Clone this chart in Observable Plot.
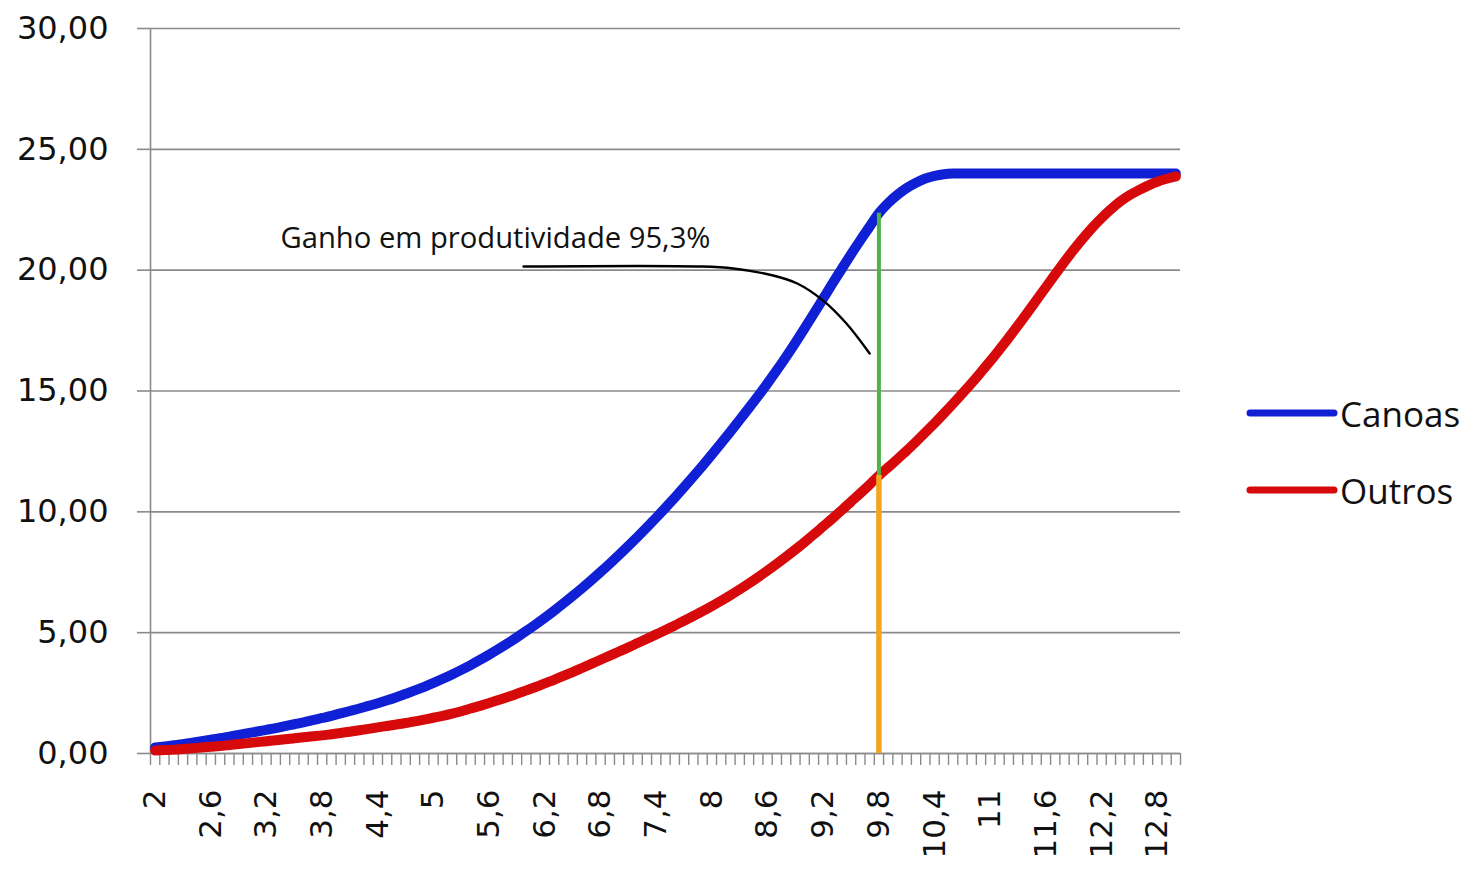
<!DOCTYPE html>
<html>
<head>
<meta charset="utf-8">
<script src="https://cdn.jsdelivr.net/npm/d3@7"></script>
<script src="https://cdn.jsdelivr.net/npm/@observablehq/plot@0.6"></script>
<style>
  html, body { margin: 0; padding: 0; background: #fff; }
  #wrap { position: relative; width: 1472px; height: 870px; }
  .legend { position: absolute; left: 1244px; font-family: "Open Sans", sans-serif; font-size: 35px; color: #111; display: flex; align-items: center; height: 40px; }
  .legend svg { display: block; }
</style>
</head>
<body>
<div id="wrap"></div>
<script>
// Categories (x axis): 2,0 to 13,0 in steps of 0,1
const categories = d3.range(20, 131).map(d => d / 10);

// Series values
const canoas = [
  0.25, 0.29, 0.34, 0.39, 0.45, 0.51, 0.57, 0.63, 0.70, 0.77,
  0.84, 0.91, 0.98, 1.05, 1.13, 1.21, 1.29, 1.38, 1.47, 1.56,
  1.66, 1.76, 1.86, 1.97, 2.08, 2.20, 2.33, 2.47, 2.61, 2.76,
  2.92, 3.09, 3.27, 3.46, 3.66, 3.87, 4.09, 4.32, 4.56, 4.81,
  5.07, 5.34, 5.62, 5.91, 6.21, 6.52, 6.84, 7.17, 7.51, 7.86,
  8.22, 8.59, 8.97, 9.36, 9.76, 10.17, 10.59, 11.02, 11.46, 11.91,
  12.37, 12.84, 13.32, 13.81, 14.30, 14.80, 15.32, 15.86, 16.42, 17.00,
  17.60, 18.21, 18.83, 19.45, 20.06, 20.66, 21.24, 21.80, 22.36, 22.78,
  23.12, 23.40, 23.62, 23.79, 23.90, 23.97, 24.00, 24.00, 24.00, 24.00,
  24.00, 24.00, 24.00, 24.00, 24.00, 24.00, 24.00, 24.00, 24.00, 24.00,
  24.00, 24.00, 24.00, 24.00, 24.00, 24.00, 24.00, 24.00, 24.00, 24.00,
  24.00
];
const outros = [
  0.12, 0.14, 0.16, 0.19, 0.22, 0.25, 0.28, 0.31, 0.35, 0.39,
  0.43, 0.47, 0.51, 0.55, 0.59, 0.63, 0.67, 0.71, 0.75, 0.80,
  0.85, 0.90, 0.96, 1.02, 1.08, 1.14, 1.20, 1.26, 1.33, 1.40,
  1.48, 1.56, 1.65, 1.75, 1.86, 1.97, 2.09, 2.21, 2.34, 2.47,
  2.61, 2.75, 2.90, 3.05, 3.21, 3.37, 3.54, 3.71, 3.88, 4.05,
  4.22, 4.39, 4.57, 4.75, 4.93, 5.11, 5.30, 5.49, 5.69, 5.89,
  6.10, 6.32, 6.55, 6.79, 7.04, 7.30, 7.57, 7.85, 8.14, 8.44,
  8.75, 9.07, 9.40, 9.73, 10.07, 10.42, 10.77, 11.13, 11.50, 11.84,
  12.18, 12.53, 12.90, 13.28, 13.67, 14.07, 14.48, 14.90, 15.33, 15.78,
  16.24, 16.72, 17.21, 17.72, 18.24, 18.77, 19.30, 19.83, 20.35, 20.85,
  21.32, 21.76, 22.16, 22.52, 22.84, 23.10, 23.31, 23.50, 23.66, 23.78,
  23.88
];

// Tick labels
const xLabelValues = [2, 2.6, 3.2, 3.8, 4.4, 5, 5.6, 6.2, 6.8, 7.4, 8, 8.6, 9.2, 9.8, 10.4, 11, 11.6, 12.2, 12.8];
const xLabels = ["2", "2,6", "3,2", "3,8", "4,4", "5", "5,6", "6,2", "6,8", "7,4", "8", "8,6", "9,2", "9,8", "10,4", "11", "11,6", "12,2", "12,8"];
const yTicks = [0, 5, 10, 15, 20, 25, 30];
const yLabels = ["0,00", "5,00", "10,00", "15,00", "20,00", "25,00", "30,00"];

// Series names and colours
const seriesNames = ["Canoas", "Outros"];
const seriesColors = ["#1020d4", "#d60a0a"];

// Annotation
const markerCategory = 9.8;
const annotationText = "Ganho em produtividade 95,3%";
const annotationTextPos = [{x: 3.351, y: 21.32}];
const annotationPath = [
  {x: 5.97, y: 20.15}, {x: 7.88, y: 20.15}, {x: 8.23, y: 20.07}, {x: 8.66, y: 19.78},
  {x: 8.92, y: 19.45}, {x: 9.20, y: 18.74}, {x: 9.45, y: 17.79}, {x: 9.70, y: 16.55}
];

// Build tables
const rows = [];
categories.forEach((c, i) => {
  rows.push({x: c, y: canoas[i], s: seriesNames[0]});
  rows.push({x: c, y: outros[i], s: seriesNames[1]});
});
const mi = categories.findIndex(c => Math.abs(c - markerCategory) < 1e-9);
const orangeRule = [{x: markerCategory, y1: 0, y2: outros[mi]}];
const greenRule = [{x: markerCategory, y1: outros[mi], y2: canoas[mi]}];
const step = 0.1;
const boundaries = categories.map(c => c - step / 2).concat([categories[categories.length - 1] + step / 2]);
const labelMap = new Map(xLabelValues.map((v, i) => [v, xLabels[i]]));
const yLabelMap = new Map(yTicks.map((v, i) => [v, yLabels[i]]));
const gray = "#8a8a8a";

const chart = Plot.plot({
  width: 1472,
  height: 870,
  marginLeft: 150,
  marginRight: 292,
  marginTop: 28,
  marginBottom: 117,
  x: {type: "linear", domain: [boundaries[0], boundaries[boundaries.length - 1]]},
  y: {domain: [0, 30]},
  style: {fontFamily: "'DejaVu Sans', Verdana, sans-serif", fontSize: "31px", color: "#111", background: "#fff"},
  marks: [
    Plot.gridY(yTicks, {stroke: gray, strokeOpacity: 1, strokeWidth: 1.6}),
    Plot.ruleX([boundaries[0]], {stroke: gray, strokeWidth: 1.6}),
    Plot.axisY(yTicks, {tickSize: 13, tickPadding: 29, stroke: gray, strokeWidth: 1.6, fill: "#111", fontSize: 32, tickFormat: d => yLabelMap.get(d), label: null}),
    Plot.axisX(boundaries, {tickSize: 12, tickFormat: () => "", stroke: gray, strokeWidth: 1.4, label: null}),
    Plot.axisX(xLabelValues, {tickSize: 0, tickPadding: 36, tickRotate: -90, fill: "#111", fontSize: 31, tickFormat: d => labelMap.get(d), label: null}),
    Plot.ruleY([0], {stroke: gray, strokeWidth: 1.6}),
    Plot.line(rows, {x: "x", y: "y", z: "s", stroke: d => seriesColors[seriesNames.indexOf(d.s)], strokeWidth: 10, strokeLinecap: "round", strokeLinejoin: "round", curve: "catmull-rom"}),
    Plot.ruleX(orangeRule, {x: "x", y1: "y1", y2: "y2", stroke: "#f2a51e", strokeWidth: 5.5}),
    Plot.ruleX(greenRule, {x: "x", y1: "y1", y2: "y2", stroke: "#4fb34a", strokeWidth: 4}),
    Plot.line(annotationPath, {x: "x", y: "y", stroke: "#000", strokeWidth: 2.4, curve: "catmull-rom"}),
    Plot.text(annotationTextPos, {x: "x", y: "y", text: () => annotationText, textAnchor: "start", fontFamily: "'Open Sans', sans-serif", fontSize: 29, fill: "#111"})
  ]
});

const wrap = document.getElementById("wrap");
wrap.appendChild(chart);

// Stretch annotation text to its width in the picture
chart.querySelectorAll("text").forEach(t => {
  if (t.textContent === annotationText) {
    t.setAttribute("textLength", 430);
    t.setAttribute("lengthAdjust", "spacingAndGlyphs");
  }
});

// Legend on the right
const legendTops = [393, 470];
seriesNames.forEach((name, i) => {
  const div = document.createElement("div");
  div.className = "legend";
  div.style.top = legendTops[i] + "px";
  div.innerHTML = `<svg width="96" height="40"><line x1="6" x2="90" y1="20" y2="20" stroke="${seriesColors[i]}" stroke-width="7" stroke-linecap="round"/></svg><span>${name}</span>`;
  wrap.appendChild(div);
});
</script>
</body>
</html>
